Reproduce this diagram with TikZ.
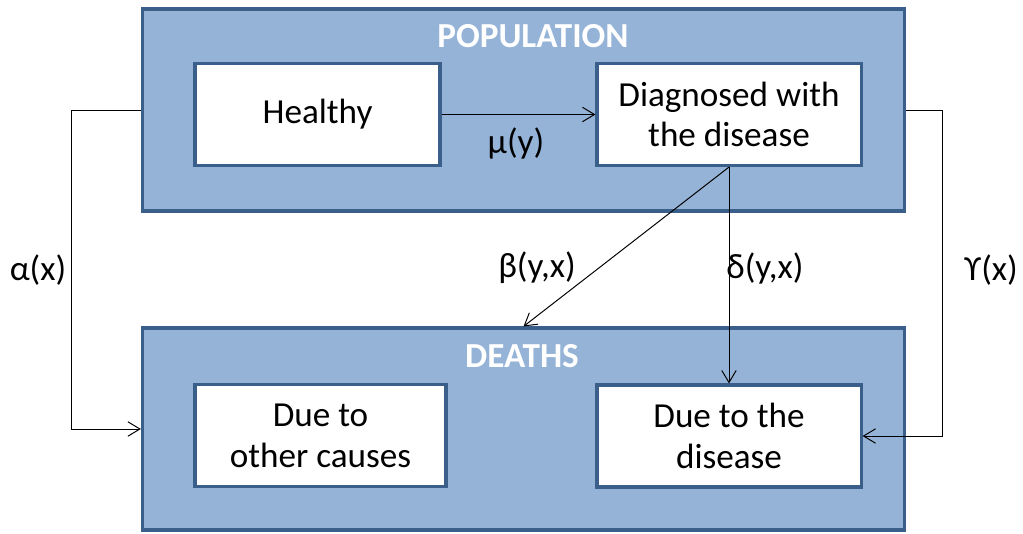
\documentclass[tikz,border=0pt]{standalone}
\usepackage{fontspec}
\setmainfont{Carlito}
\usetikzlibrary{arrows.meta}
\definecolor{boxfill}{HTML}{95B3D7}
\definecolor{boxline}{HTML}{3A5F8B}

\begin{document}
\begin{tikzpicture}[x=0.025cm,y=-0.025cm]

        \useasboundingbox (0,0) rectangle (1023,533);

        \begin{scope}[every node/.style={rectangle, draw=boxline, line width=2.2pt, fill=boxfill, minimum width=19.05cm, minimum height=5.05cm}]
          \node (pop)    at (523.5,110) {};
          \node (deaths) at (523.5,429) {};
        \end{scope}

        \begin{scope}[every node/.style={text=white, font=\bfseries\fontsize{25}{29}\selectfont}]
          \node (poptitle)    at (533,36)  {POPULATION};
          \node (deathstitle) at (522,356) {DEATHS};
        \end{scope}

        \begin{scope}[every node/.style={rectangle, draw=boxline, line width=2.2pt, fill=white, align=center, font=\fontsize{25}{29}\selectfont, minimum height=2.55cm}]
          \node[minimum width=6.125cm] (healthy) at (317.5,114.5) {Healthy};
          \node[minimum width=6.6cm]   (diag)    at (729,114.5)   {Diagnosed with\\the disease};
          \node[minimum width=6.275cm] (other)   at (320.5,435.5) {Due to\\other causes};
          \node[minimum width=6.6cm]   (disease) at (729,436)     {Due to the\\disease};
        \end{scope}

        \begin{scope}[every node/.style={font=\fontsize{25}{29}\selectfont}]
          \node (mu)    at (516,143) {μ(y)};
          \node (beta)  at (537,268) {β(y,x)};
          \node (delta) at (765,268) {δ(y,x)};
          \node (alpha) at (38,270)  {α(x)};
          \node (ups)   at (991,270) {ϒ(x)};
        \end{scope}

        \begin{scope}[line width=0.7pt, every edge/.style={draw, -{Straight Barb[length=0.3cm,width=0.36cm]}}]
          \path (healthy)     edge (diag);
          \path (diag.south)  edge (deaths.north);
          \path (diag.south)  edge (disease.north);
          \path (pop.west)    edge[to path={-- ++(-69,0) |- (\tikztotarget)}] (deaths.west);
          \path (pop.east)    edge[to path={-- ++(36,0) |- (\tikztotarget)}] (disease.east);
        \end{scope}

      \end{tikzpicture}
\end{document}
